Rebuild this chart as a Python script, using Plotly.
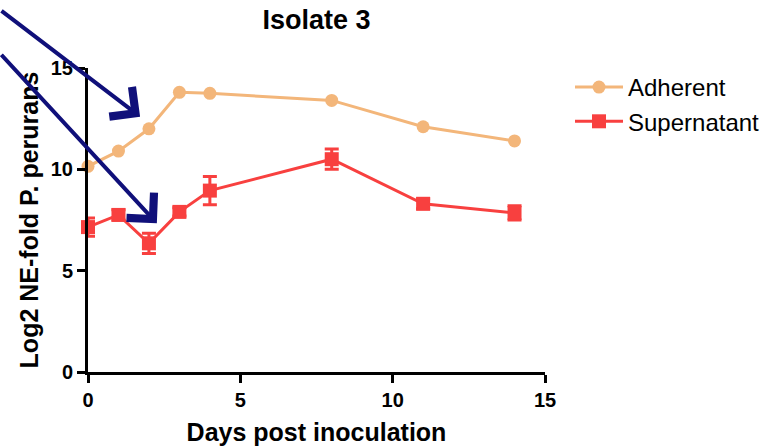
import plotly.graph_objects as go

days = [0, 1, 2, 3, 4, 8, 11, 14]
adherent = [10.15, 10.9, 12.0, 13.8, 13.75, 13.4, 12.1, 11.4]
supernatant = [7.15, 7.75, 6.35, 7.9, 8.95, 10.5, 8.3, 7.85]
supernatant_err = [0.45, 0.25, 0.5, 0.2, 0.7, 0.5, 0.25, 0.35]

x_ticks = [0, 5, 10, 15]
y_ticks = [0, 5, 10, 15]

orange = "#F3B67A"
red = "#F8403F"
navy = "#10107A"
font_family = "Liberation Sans, Arial, sans-serif"

fig = go.Figure()
fig.add_trace(go.Scatter(
    x=days, y=adherent, name="Adherent", mode="lines+markers",
    line=dict(color=orange, width=3),
    marker=dict(symbol="circle", size=13, color=orange),
    cliponaxis=False,
))
fig.add_trace(go.Scatter(
    x=days, y=supernatant, name="Supernatant", mode="lines+markers",
    line=dict(color=red, width=3),
    marker=dict(symbol="square", size=14, color=red),
    error_y=dict(type="data", array=supernatant_err, color=red, thickness=3, width=7),
    cliponaxis=False,
))

# Arrows (annotation overlay)
fig.add_annotation(x=1.71, y=12.6, xref="x", yref="y", ax=-145, ay=-107,
                   showarrow=True, arrowhead=4, arrowsize=1.8, arrowwidth=4,
                   arrowcolor=navy, text="")
fig.add_annotation(x=2.26, y=7.34, xref="x", yref="y", ax=-162, ay=-170,
                   showarrow=True, arrowhead=4, arrowsize=1.8, arrowwidth=4,
                   arrowcolor=navy, text="")

axis_common = dict(
    showline=True, linecolor="black", linewidth=3,
    ticks="outside", ticklen=8, tickwidth=3, tickcolor="black",
    showgrid=False, zeroline=False, automargin=False,
    tickfont=dict(family=font_family, size=20, color="black", weight="bold"),
)

fig.update_layout(
    width=765, height=446,
    margin=dict(l=88, r=220, t=68, b=74, autoexpand=False),
    paper_bgcolor="white", plot_bgcolor="white",
    title=dict(text="<b>Isolate 3</b>", x=(88 + 545) / 2 / 765, xanchor="center",
               y=1 - 20 / 446, yanchor="middle",
               font=dict(family=font_family, size=27, color="black")),
    xaxis=dict(range=[0, 15], tickvals=x_ticks, **axis_common,
               title=dict(text="<b>Days post inoculation</b>", standoff=16,
                          font=dict(family=font_family, size=25, color="black"))),
    yaxis=dict(range=[0, 15], tickvals=y_ticks, **axis_common,
               title=dict(text="<b>Log2 NE-fold P. perurans</b>", standoff=6,
                          font=dict(family=font_family, size=25, color="black"))),
    legend=dict(xref="container", yref="container", x=570 / 765, y=1 - 65 / 446,
                xanchor="left", yanchor="top",
                font=dict(family=font_family, size=24, color="black"),
                itemwidth=48, bgcolor="rgba(0,0,0,0)"),
    showlegend=True,
)

fig.write_html("out.html")
